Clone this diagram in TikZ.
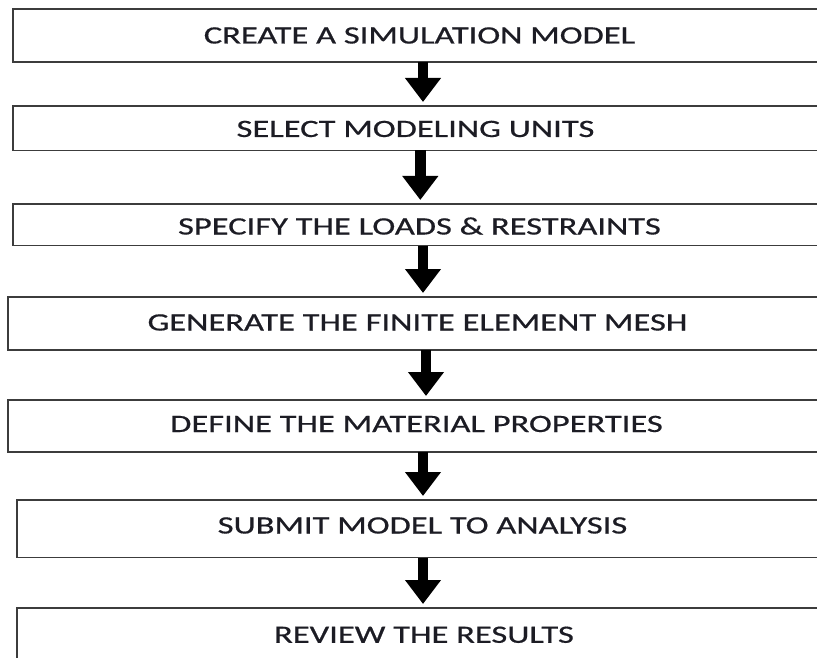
\documentclass[tikz,border=0pt]{standalone}
\usepackage{fontspec}
\setmainfont{Carlito}
\newfontfamily\stepfont{Carlito}[FakeBold=0.5]
\usetikzlibrary{arrows.meta}
\definecolor{edgegray}{HTML}{3C3C3C}
\definecolor{inkdark}{HTML}{1C1C24}
\begin{document}
\begin{tikzpicture}[x=1pt, y=-1pt,
  stepbox/.style={draw=edgegray, line width=1.8pt, rectangle, anchor=north west,
    inner sep=0pt, outer sep=0pt},
  steptext/.style={anchor=base, inner sep=0pt, text=inkdark,
    font=\stepfont\fontsize{25}{30}\selectfont},
  flowarrow/.style={draw=black, line width=10.8pt,
    -{Triangle[width=34.5pt, length=24pt]}, shorten >=4pt}]
  \useasboundingbox (0,0) rectangle (817,658);
  \clip (0,0) rectangle (817,658);
  \fill[white] (0,0) rectangle (817,658);
  % process boxes (they run past the right edge)
  \node[stepbox, minimum width=817.3pt, minimum height=53pt]   (b1) at (12.7,9)   {};
  \node[stepbox, minimum width=817.3pt, minimum height=44.5pt] (b2) at (12.7,106) {};
  \node[stepbox, minimum width=817.3pt, minimum height=41.5pt] (b3) at (12.7,204) {};
  \node[stepbox, minimum width=821.7pt, minimum height=53pt]   (b4) at (8.3,297)  {};
  \node[stepbox, minimum width=821.7pt, minimum height=52.3pt] (b5) at (8.3,400)  {};
  \node[stepbox, minimum width=813.3pt, minimum height=57.5pt] (b6) at (16.7,500) {};
  \node[stepbox, minimum width=813.3pt, minimum height=70pt]   (b7) at (16.7,608) {};
  % step labels
  \node[steptext] (t1) at (419.5,43.5)  {\scalebox{1.38}[1]{CREATE A SIMULATION MODEL}};
  \node[steptext] (t2) at (415.5,137)   {\scalebox{1.38}[1]{SELECT MODELING UNITS}};
  \node[steptext] (t3) at (419.5,234.5) {\scalebox{1.38}[1]{SPECIFY THE LOADS \& RESTRAINTS}};
  \node[steptext] (t4) at (417.5,330.5) {\scalebox{1.38}[1]{GENERATE THE FINITE ELEMENT MESH}};
  \node[steptext] (t5) at (416.5,432)   {\scalebox{1.38}[1]{DEFINE THE MATERIAL PROPERTIES}};
  \node[steptext] (t6) at (422.5,533.5) {\scalebox{1.38}[1]{SUBMIT MODEL TO ANALYSIS}};
  \node[steptext] (t7) at (424,642.8)   {\scalebox{1.38}[1]{REVIEW THE RESULTS}};
  % connectors
  \draw[flowarrow] (b1.south -| 423,0)   -- (b2.north -| 423,0);
  \draw[flowarrow] (b2.south -| 420.3,0) -- (b3.north -| 420.3,0);
  \draw[flowarrow] (b3.south -| 423,0)   -- (b4.north -| 423,0);
  \draw[flowarrow] (b4.south -| 426,0)   -- (b5.north -| 426,0);
  \draw[flowarrow] (b5.south -| 423,0)   -- (b6.north -| 423,0);
  \draw[flowarrow] (b6.south -| 423,0)   -- (b7.north -| 423,0);
\end{tikzpicture}
\end{document}
